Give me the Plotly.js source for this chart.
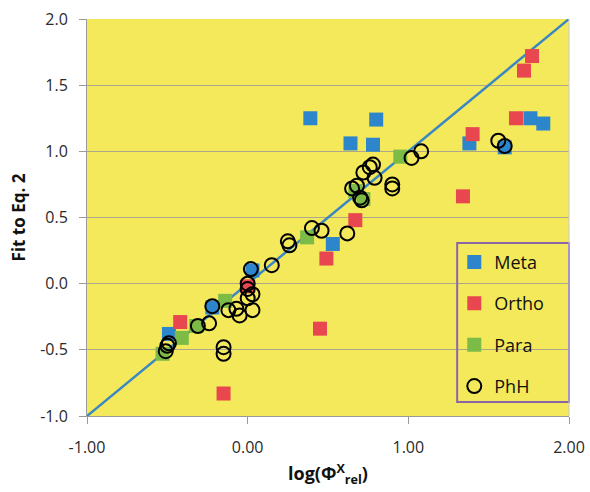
<!DOCTYPE html>
<html>
<head>
<meta charset="utf-8">
<script src="https://cdn.plot.ly/plotly-3.0.1.min.js"></script>
<style>html,body{margin:0;padding:0;background:#fff;}#chart{width:590px;height:492px;}</style>
</head>
<body>
<div id="chart"></div>
<script>
// Data
const metaX = [0.39, 0.80, 0.64, 0.78, 0.53, 1.38, 1.76, 1.84, 1.60, 0.03, -0.22, -0.49];
const metaY = [1.25, 1.24, 1.06, 1.05, 0.30, 1.06, 1.25, 1.21, 1.03, 0.10, -0.18, -0.38];

const orthoX = [1.77, 1.72, 1.67, 1.40, 1.34, 0.67, 0.49, 0.45, -0.15, -0.42, 0.00];
const orthoY = [1.72, 1.61, 1.25, 1.13, 0.66, 0.48, 0.19, -0.34, -0.83, -0.29, -0.02];

const paraX = [0.95, 0.37, 0.67, 0.72, -0.41, -0.53, -0.32, -0.14];
const paraY = [0.96, 0.35, 0.70, 0.64, -0.41, -0.53, -0.32, -0.13];

const phhX = [1.02, 1.08, 1.56, 1.60, 0.76, 0.78, 0.72, 0.79, 0.90, 0.90,
              0.65, 0.68, 0.70, 0.71, 0.40, 0.46, 0.62, 0.25, 0.26, 0.15,
              0.02, 0.00, 0.00, 0.03, 0.00, -0.22, -0.12, -0.07, -0.05, 0.03,
              -0.24, -0.31, -0.49, -0.50, -0.51, -0.15, -0.15];
const phhY = [0.95, 1.00, 1.08, 1.04, 0.88, 0.90, 0.84, 0.80, 0.75, 0.72,
              0.72, 0.74, 0.65, 0.63, 0.42, 0.40, 0.38, 0.32, 0.29, 0.14,
              0.11, 0.00, -0.04, -0.08, -0.11, -0.17, -0.20, -0.19, -0.24, -0.20,
              -0.30, -0.32, -0.45, -0.47, -0.51, -0.48, -0.53];

const lineX = [-1, 2];
const lineY = [-1, 2];

const xTickVals = [-1, 0, 1, 2];
const xTickText = ['-1.00', '0.00', '1.00', '2.00'];
const yTickVals = [-1, -0.5, 0, 0.5, 1, 1.5, 2];
const yTickText = ['-1.0', '-0.5', '0.0', '0.5', '1.0', '1.5', '2.0'];

const seriesNames = ['Meta', 'Ortho', 'Para', 'PhH'];

const traces = [
  {x: lineX, y: lineY, mode: 'lines', showlegend: false, hoverinfo: 'skip',
   line: {color: '#3a87c4', width: 2.5}},
  {x: metaX, y: metaY, mode: 'markers', name: seriesNames[0], legendgroup: 'a',
   marker: {symbol: 'square', size: 14, color: '#2d85cc'}},
  {x: orthoX, y: orthoY, mode: 'markers', name: seriesNames[1], legendgroup: 'b',
   marker: {symbol: 'square', size: 14, color: '#e8474f'}},
  {x: paraX, y: paraY, mode: 'markers', name: seriesNames[2], legendgroup: 'c',
   marker: {symbol: 'square', size: 14, color: '#7dbb47'}},
  {x: phhX, y: phhY, mode: 'markers', name: seriesNames[3], legendgroup: 'd',
   marker: {symbol: 'circle-open', size: 14, color: '#000', line: {width: 2, color: '#000'}}}
];

const layout = {
  width: 590, height: 492,
  margin: {l: 87, r: 21, t: 19, b: 76},
  paper_bgcolor: '#ffffff',
  plot_bgcolor: '#f3e95a',
  font: {family: 'Open Sans, Liberation Sans, sans-serif', size: 16, color: '#2a2a2a'},
  xaxis: {
    range: [-1, 2], tickvals: xTickVals, ticktext: xTickText,
    showgrid: false, zeroline: false,
    showline: true, linecolor: '#9a9a9a', linewidth: 1, mirror: false,
    ticks: 'outside', ticklen: 7, tickcolor: '#9a9a9a',
    ticklabelstandoff: 10,
    title: {text: 'log(Φ<sup>X</sup><sub>rel</sub>)', font: {size: 18, color: '#111', family: 'Open Sans, sans-serif', weight: 'bold'}, standoff: 10}
  },
  yaxis: {
    range: [-1, 2], tickvals: yTickVals, ticktext: yTickText,
    showgrid: true, gridcolor: '#aca68a', gridwidth: 1, zeroline: false,
    showline: true, linecolor: '#9a9a9a', linewidth: 1,
    ticks: 'outside', ticklen: 7, tickcolor: '#9a9a9a',
    ticklabelstandoff: 8,
    title: {text: 'Fit to Eq. 2', font: {size: 17, color: '#111', family: 'Open Sans, sans-serif', weight: 'bold'}, standoff: 10}
  },
  legend: {
    x: 0.762, xanchor: 'left', y: 0.434, yanchor: 'top',
    bgcolor: 'rgba(0,0,0,0)', borderwidth: 0,
    traceorder: 'grouped', tracegroupgap: 15,
    font: {size: 18, color: '#111'}
  },
  shapes: [
    {type: 'rect', xref: 'paper', yref: 'paper', x0: 0.768, x1: 1.0, y0: 0.035, y1: 0.436,
     line: {color: '#8a66a8', width: 2}, fillcolor: 'rgba(0,0,0,0)', layer: 'above'},
    {type: 'line', xref: 'paper', yref: 'paper', x0: 1, x1: 1, y0: 0, y1: 1,
     line: {color: '#c4c8d8', width: 1}}
  ]
};

Plotly.newPlot('chart', traces, layout, {displayModeBar: false, staticPlot: true});
</script>
</body>
</html>
